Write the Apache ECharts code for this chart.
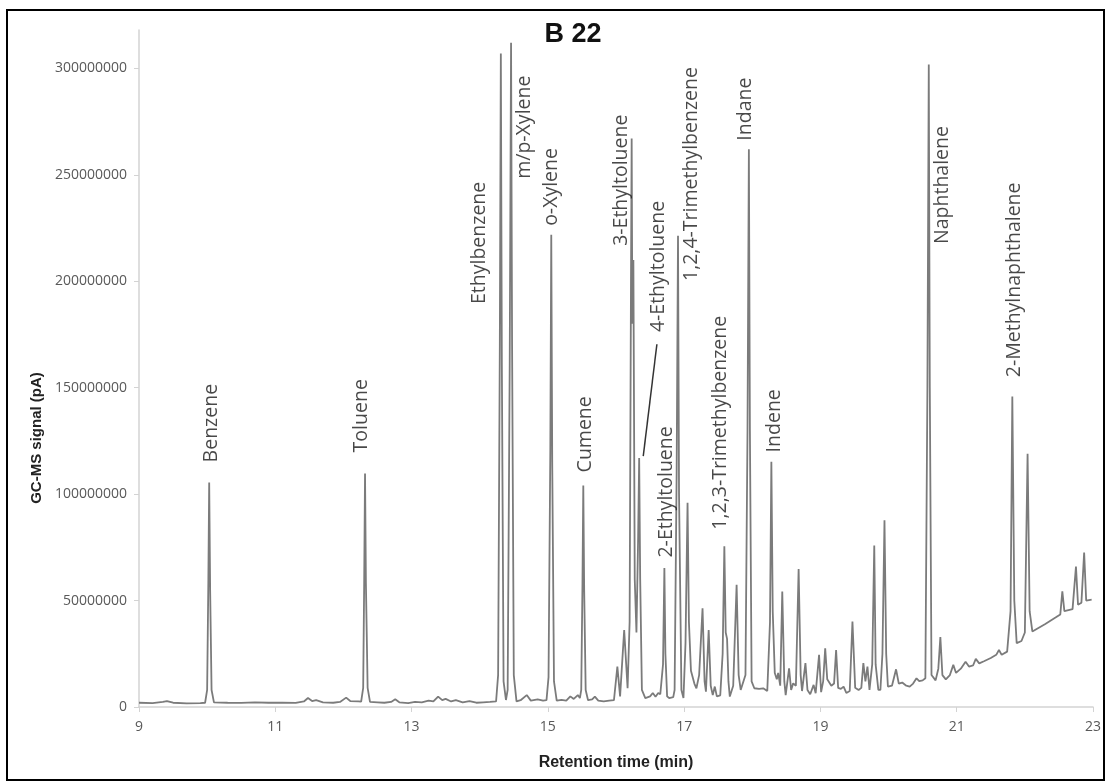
<!DOCTYPE html>
<html>
<head>
<meta charset="utf-8">
<title>B 22</title>
<script src="https://cdn.jsdelivr.net/npm/echarts@6.0.0/dist/echarts.min.js"></script>
<style>
  html, body { margin: 0; padding: 0; background: #fff; }
  #chart { width: 1107px; height: 782px; }
</style>
</head>
<body>
<div id="chart"></div>
<script>
// Chromatogram trace: [retention time (min), GC-MS signal (pA)]
const trace = [
  [9.00, 2.0e6], [9.20, 1.8e6], [9.35, 2.4e6], [9.41, 2.8e6], [9.50, 2.0e6], [9.70, 1.7e6], [9.90, 1.8e6],
  [9.97, 2.0e6], [10.00, 8e6], [10.018, 60e6], [10.03, 105.5e6], [10.044, 55e6], [10.065, 8e6], [10.10, 2.2e6],
  [10.30, 2.0e6], [10.50, 1.9e6], [10.70, 2.2e6], [10.90, 2.0e6], [11.10, 2.1e6], [11.30, 1.9e6],
  [11.42, 2.6e6], [11.48, 4.2e6], [11.54, 2.8e6], [11.60, 3.2e6], [11.70, 2.2e6], [11.85, 2.0e6],
  [11.95, 2.4e6], [12.04, 4.4e6], [12.10, 2.8e6], [12.22, 2.6e6],
  [12.26, 2.5e6], [12.29, 9e6], [12.305, 60e6], [12.317, 109.7e6], [12.33, 58e6], [12.355, 9e6], [12.39, 2.4e6],
  [12.50, 2.2e6], [12.60, 2.0e6], [12.70, 2.4e6], [12.76, 3.6e6], [12.82, 2.2e6], [12.95, 1.8e6],
  [13.05, 2.4e6], [13.15, 2.2e6], [13.25, 3.0e6], [13.32, 2.6e6], [13.39, 4.9e6], [13.45, 3.2e6],
  [13.50, 3.8e6], [13.58, 2.6e6], [13.65, 3.2e6], [13.75, 2.2e6], [13.85, 2.8e6], [13.95, 2.0e6],
  [14.05, 2.2e6], [14.15, 2.4e6],
  [14.24, 2.6e6], [14.27, 15e6], [14.295, 170e6], [14.31, 307e6], [14.325, 160e6], [14.35, 12e6], [14.385, 3.3e6],
  [14.41, 8e6], [14.44, 160e6], [14.46, 312e6], [14.475, 170e6], [14.50, 15e6], [14.54, 2.6e6],
  [14.60, 3.2e6], [14.69, 5.6e6], [14.75, 3.0e6], [14.85, 3.6e6], [14.93, 3.0e6],
  [14.98, 3.2e6], [15.01, 14e6], [15.036, 120e6], [15.05, 221.8e6], [15.064, 115e6], [15.09, 12e6], [15.13, 3.0e6],
  [15.20, 3.4e6], [15.27, 3.0e6], [15.33, 5.0e6], [15.38, 3.8e6], [15.44, 5.6e6], [15.47, 4.2e6],
  [15.49, 8e6], [15.508, 58e6], [15.52, 104e6], [15.533, 55e6], [15.555, 8e6], [15.59, 3.2e6],
  [15.65, 3.6e6], [15.69, 4.9e6], [15.74, 3.0e6], [15.82, 2.6e6], [15.90, 3.0e6], [15.97, 3.2e6],
  [16.02, 19e6], [16.06, 5e6], [16.12, 36.2e6], [16.17, 8.8e6],
  [16.20, 40e6], [16.22, 200e6], [16.23, 267e6], [16.24, 180e6], [16.255, 210e6], [16.275, 60e6], [16.30, 35e6],
  [16.325, 80e6], [16.34, 117e6], [16.355, 60e6], [16.38, 8e6], [16.43, 4.2e6],
  [16.50, 5.0e6], [16.54, 6.6e6], [16.58, 4.8e6], [16.62, 6.6e6], [16.65, 6.0e6],
  [16.69, 20e6], [16.71, 65.3e6], [16.725, 25e6], [16.75, 5e6], [16.78, 4.2e6], [16.84, 4.6e6],
  [16.86, 8e6], [16.89, 110e6], [16.91, 221.4e6], [16.925, 100e6], [16.96, 8e6], [16.99, 4.2e6],
  [17.02, 30e6], [17.05, 95.9e6], [17.07, 40e6], [17.10, 17e6], [17.12, 17e6], [17.15, 11e6], [17.18, 8.8e6],
  [17.22, 15e6], [17.27, 46.4e6], [17.30, 12e6], [17.32, 7.2e6], [17.36, 36.2e6], [17.39, 10e6], [17.42, 5.6e6],
  [17.45, 9.6e6], [17.48, 5.0e6], [17.53, 5.5e6],
  [17.565, 25e6], [17.59, 75.5e6], [17.61, 35e6], [17.63, 32e6], [17.65, 12e6], [17.67, 4.9e6],
  [17.72, 10e6], [17.77, 57.4e6], [17.80, 15e6], [17.83, 8e6],
  [17.90, 15e6], [17.93, 130e6], [17.95, 262e6], [17.965, 130e6], [17.99, 12e6], [18.03, 8.8e6],
  [18.10, 8.5e6], [18.16, 8.8e6], [18.22, 7.5e6],
  [18.26, 40e6], [18.28, 115.2e6], [18.30, 45e6], [18.33, 16e6], [18.36, 13e6], [18.38, 16e6], [18.41, 10e6],
  [18.44, 54.3e6], [18.47, 12e6], [18.49, 5.6e6], [18.54, 18.2e6], [18.57, 8e6], [18.60, 11.1e6], [18.64, 10e6],
  [18.68, 64.8e6], [18.71, 15e6], [18.73, 7.5e6], [18.78, 20.6e6], [18.81, 8e6], [18.85, 6.0e6],
  [18.90, 10.4e6], [18.93, 6.5e6], [18.98, 24.5e6], [19.01, 7e6], [19.04, 12e6], [19.07, 27.6e6],
  [19.10, 13e6], [19.12, 13.5e6], [19.16, 10e6], [19.20, 11e6], [19.23, 26.8e6], [19.26, 9e6],
  [19.30, 8.5e6], [19.34, 9.6e6], [19.38, 6.6e6], [19.43, 7.5e6], [19.47, 40.2e6], [19.51, 9e6],
  [19.56, 8e6], [19.60, 9e6], [19.63, 20.6e6], [19.66, 12e6], [19.69, 19e6], [19.72, 8e6],
  [19.76, 20e6], [19.79, 75.8e6], [19.81, 20e6], [19.85, 8e6], [19.88, 8e6],
  [19.91, 25e6], [19.94, 87.7e6], [19.965, 25e6], [19.99, 9.6e6],
  [20.05, 10e6], [20.11, 17.7e6], [20.15, 11e6], [20.20, 11.5e6], [20.26, 10e6], [20.31, 9.6e6],
  [20.36, 11e6], [20.41, 13.5e6], [20.45, 12.2e6], [20.50, 12.5e6],
  [20.54, 13.5e6], [20.57, 150e6], [20.59, 301.8e6], [20.605, 150e6], [20.63, 15e6], [20.69, 12.5e6],
  [20.73, 18e6], [20.76, 32.8e6], [20.79, 15e6], [20.84, 13e6], [20.90, 15e6], [20.95, 19.8e6],
  [20.99, 16e6], [21.06, 18e6], [21.13, 21.3e6], [21.18, 19e6], [21.24, 19.5e6], [21.28, 22.6e6],
  [21.33, 20.5e6], [21.40, 21.5e6], [21.50, 23e6], [21.58, 24.5e6], [21.62, 26.8e6], [21.66, 24.5e6], [21.74, 26e6],
  [21.79, 45e6], [21.816, 145.8e6], [21.845, 50e6], [21.88, 30e6], [21.95, 31e6], [22.00, 35e6],
  [22.04, 119e6], [22.07, 45e6], [22.11, 35.5e6], [22.30, 39e6], [22.45, 42e6], [22.52, 43.5e6],
  [22.55, 54.3e6], [22.58, 45e6], [22.70, 46e6], [22.75, 66e6], [22.78, 48e6], [22.83, 49e6],
  [22.87, 72.6e6], [22.90, 50e6], [22.98, 50.4e6]
];

// Compound names and where each name starts, in axis units (time, signal)
const compounds = [
  'Benzene', 'Toluene', 'Ethylbenzene', 'm/p-Xylene', 'o-Xylene', 'Cumene',
  '3-Ethyltoluene', '4-Ethyltoluene', '2-Ethyltoluene', '1,2,4-Trimethylbenzene',
  '1,2,3-Trimethylbenzene', 'Indane', 'Indene', 'Naphthalene', '2-Methylnaphthalene'
];
const labelTimes = [10.057, 12.258, 13.99, 14.65, 15.046, 15.545, 16.074, 16.63, 16.734, 17.10, 17.527, 17.893, 18.319, 20.785, 21.841];
const labelSignals = [114.9e6, 119.6e6, 189.3e6, 248.1e6, 226e6, 110.2e6, 216.6e6, 176.1e6, 70.2e6, 200.1e6, 83.3e6, 266e6, 119.6e6, 217.5e6, 154.9e6];

// Leader from the 4-Ethyltoluene name to its peak
const leaderFrom = [16.60, 170.4e6];
const leaderTo = [16.40, 117.8e6];

const xTicks = [9, 11, 13, 15, 17, 19, 21, 23];
const yTicks = [0, 50e6, 100e6, 150e6, 200e6, 250e6, 300e6];

const chart = echarts.init(document.getElementById('chart'), null, { renderer: 'canvas' });

const axisGray = '#d3d3d3';
const tickText = '#595959';
const boldFont = 'Liberation Sans, Arial, sans-serif';

chart.setOption({
  animation: false,
  backgroundColor: '#fff',
  title: {
    text: 'B 22',
    left: 568,
    top: 16,
    textAlign: 'center',
    textStyle: { fontFamily: boldFont, fontWeight: 'bold', fontSize: 27, color: '#111' }
  },
  graphic: [
    {
      type: 'rect',
      shape: { x: 7, y: 10, width: 1097, height: 770 },
      style: { fill: 'none', stroke: '#000', lineWidth: 2 },
      silent: true
    },
    {
      // vertical axis title, set a little below the middle of the axis
      type: 'text',
      x: 37, y: 438,
      rotation: Math.PI / 2,
      style: {
        text: 'GC-MS signal (pA)',
        fill: '#222',
        font: 'bold 15px ' + boldFont,
        align: 'center',
        verticalAlign: 'middle'
      },
      silent: true
    }
  ],
  grid: { left: 139, right: 14, top: 30, bottom: 75, containLabel: false },
  xAxis: {
    type: 'value',
    min: 9, max: 23, interval: 2,
    name: 'Retention time (min)',
    nameLocation: 'middle',
    nameGap: 48,
    nameTextStyle: { fontFamily: boldFont, fontWeight: 'bold', fontSize: 16, color: '#222' },
    axisLine: { show: true, lineStyle: { color: axisGray, width: 1.5 } },
    axisTick: { show: true, length: 5, lineStyle: { color: axisGray }, customValues: xTicks },
    axisLabel: { color: tickText, fontFamily: 'Open Sans, sans-serif', fontSize: 14, margin: 13, customValues: xTicks },
    splitLine: { show: false }
  },
  yAxis: {
    type: 'value',
    min: 0, max: 318e6,
    axisLine: { show: true, lineStyle: { color: axisGray, width: 1.5 } },
    axisTick: { show: true, length: 5, lineStyle: { color: axisGray }, customValues: yTicks },
    axisLabel: {
      color: tickText, fontFamily: 'Open Sans, sans-serif', fontSize: 14, margin: 12,
      customValues: yTicks,
      formatter: v => String(Math.round(v))
    },
    splitLine: { show: false }
  },
  series: [
    {
      type: 'line',
      data: trace,
      showSymbol: false,
      smooth: false,
      lineStyle: { color: '#7b7b7b', width: 1.8 },
      z: 2
    },
    {
      type: 'scatter',
      symbolSize: 0,
      data: compounds.map((name, i) => ({ name, value: [labelTimes[i], labelSignals[i]] })),
      label: {
        show: true,
        formatter: '{b}',
        position: 'inside',
        rotate: 90,
        align: 'left',
        verticalAlign: 'middle',
        fontFamily: 'Open Sans, sans-serif',
        fontSize: 19.5,
        color: '#1a1a1a'
      },
      markLine: {
        silent: true,
        symbol: 'none',
        label: { show: false },
        lineStyle: { color: '#333', width: 1.5, type: 'solid' },
        data: [[{ coord: leaderFrom }, { coord: leaderTo }]]
      },
      z: 3
    }
  ]
});
</script>
</body>
</html>
